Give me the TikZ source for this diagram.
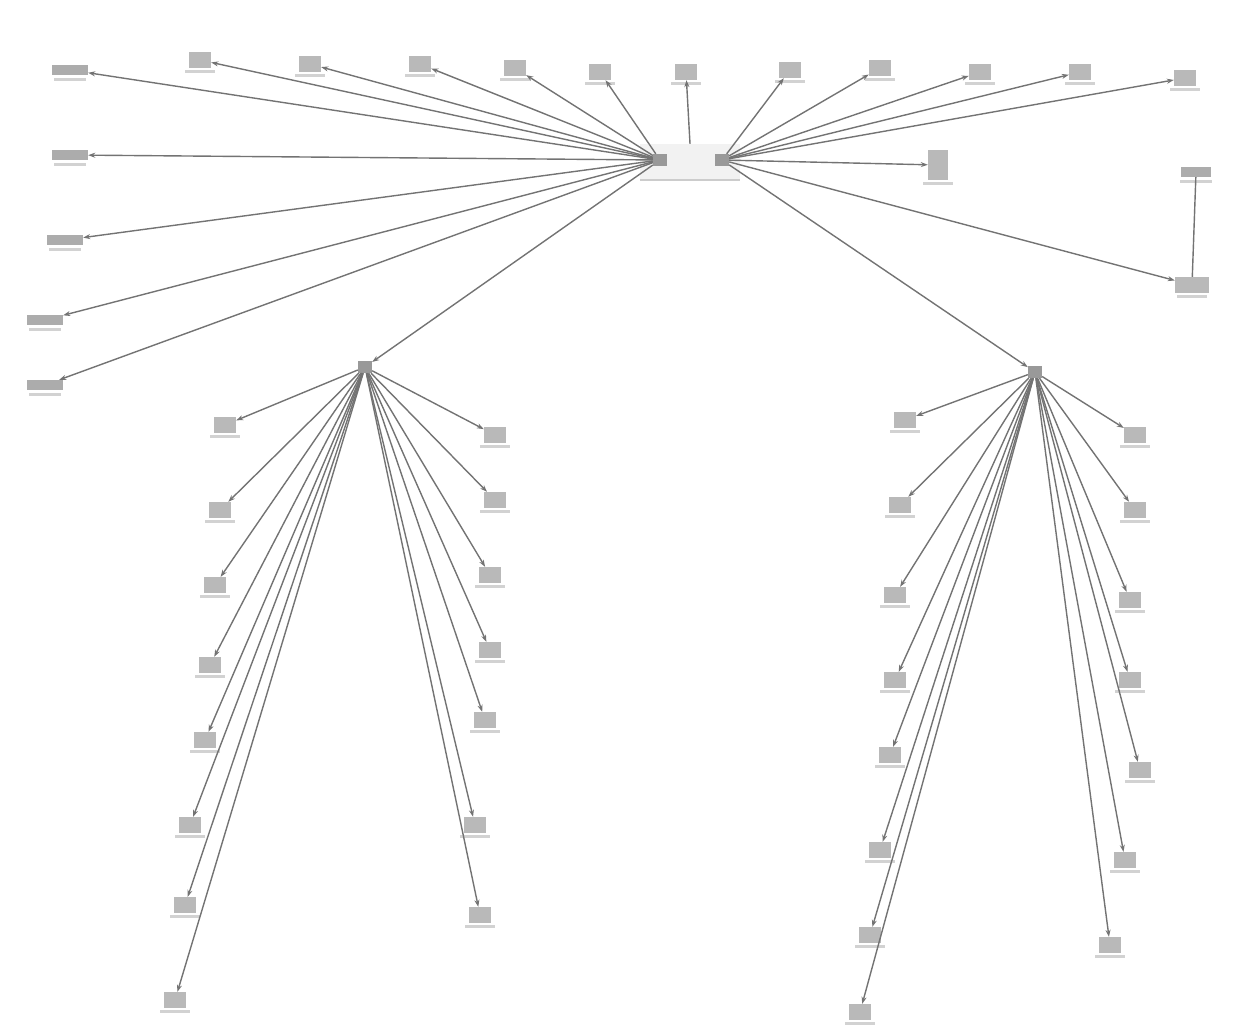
\documentclass[tikz,border=0pt]{standalone}
\usetikzlibrary{arrows.meta}
\begin{document}
\begin{tikzpicture}[x=1pt,y=-1pt,
    leaf/.style={rectangle,fill=gray!55,minimum width=22pt,minimum height=16pt,inner sep=0pt,
      label={[fill=gray!35,inner sep=0pt,minimum width=30pt,minimum height=3pt,yshift=-2pt]below:{}}},
    tag/.style={rectangle,fill=gray!65,minimum width=36pt,minimum height=10pt,inner sep=0pt,
      label={[fill=gray!35,inner sep=0pt,minimum width=32pt,minimum height=3pt,yshift=-3pt]below:{}}},
    hub/.style={rectangle,fill=gray!80,minimum width=14pt,minimum height=12pt,inner sep=0pt},
    link/.style={draw=black!55,line width=1.4pt,-{Stealth[length=7pt,width=5pt]}}]

\useasboundingbox (0,0) rectangle (1246,1029);

% hubs
\node[rectangle,fill=gray!10,minimum width=100pt,minimum height=36pt,inner sep=0pt] (core) at (690,162) {};
\draw[gray!40,line width=2pt] (core.south west) -- (core.south east);
\node[hub] (hl) at (660,160) {};
\node[hub] (hr) at (722,160) {};
\node[hub] (bl) at (365,367) {};
\node[hub] (br) at (1035,372) {};

% top row and left side
\foreach \n/\x/\y in {t1/200/60,t2/310/64,t3/420/64,t4/515/68,t5/600/72}
  \node[leaf] (\n) at (\x,\y) {};
\foreach \n/\x/\y in {s1/70/70,s2/70/155,s3/65/240,s4/45/320,s5/45/385}
  \node[tag] (\n) at (\x,\y) {};
\node[leaf] (t0) at (686,72) {};
\foreach \n/\x/\y in {r1/790/70,r2/880/68,r3/980/72,r4/1080/72,r5/1185/78}
  \node[leaf] (\n) at (\x,\y) {};
\node[leaf,minimum width=20pt,minimum height=30pt] (db) at (938,165) {};
\node[leaf,minimum width=34pt] (rt) at (1192,285) {};
\node[tag,minimum width=30pt] (ru) at (1196,172) {};

\foreach \n in {t1,t2,t3,t4,t5,s1,s2,s3,s4,s5}
  \draw[link] (hl) -- (\n);
\foreach \n in {r1,r2,r3,r4,r5,db,rt}
  \draw[link] (hr) -- (\n);
\draw[link] (core.north) -- (t0);
\draw[black!55,line width=1.4pt] (ru) -- (rt);
\draw[link] (hl) -- (bl);
\draw[link] (hr) -- (br);

% lower left group
\foreach \n/\x/\y in {a1/225/425,a2/220/510,a3/215/585,a4/210/665,a5/205/740,a6/190/825,a7/185/905,a8/175/1000}
  \node[leaf] (\n) at (\x,\y) {};
\foreach \n/\x/\y in {b1/495/435,b2/495/500,b3/490/575,b4/490/650,b5/485/720,b6/475/825,b7/480/915}
  \node[leaf] (\n) at (\x,\y) {};
\foreach \n in {a1,a2,a3,a4,a5,a6,a7,a8,b1,b2,b3,b4,b5,b6,b7}
  \draw[link] (bl) -- (\n);

% lower right group
\foreach \n/\x/\y in {c1/905/420,c2/900/505,c3/895/595,c4/895/680,c5/890/755,c6/880/850,c7/870/935,c8/860/1012}
  \node[leaf] (\n) at (\x,\y) {};
\foreach \n/\x/\y in {d1/1135/435,d2/1135/510,d3/1130/600,d4/1130/680,d5/1140/770,d6/1125/860,d7/1110/945}
  \node[leaf] (\n) at (\x,\y) {};
\foreach \n in {c1,c2,c3,c4,c5,c6,c7,c8,d1,d2,d3,d4,d5,d6,d7}
  \draw[link] (br) -- (\n);
\end{tikzpicture}
\end{document}
